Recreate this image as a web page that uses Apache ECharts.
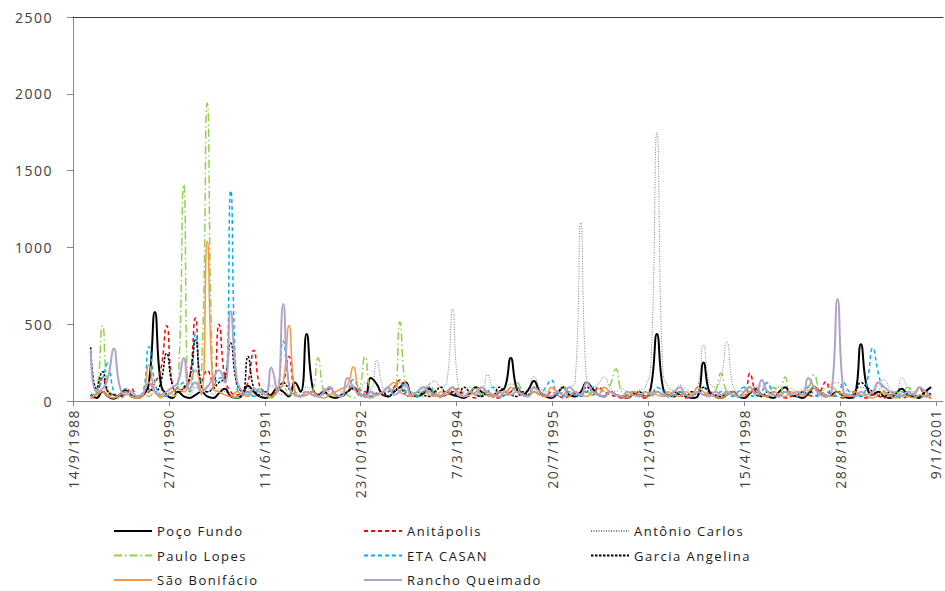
<!DOCTYPE html>
<html>
<head>
<meta charset="utf-8">
<script src="https://cdn.jsdelivr.net/npm/echarts@6/dist/echarts.min.js"></script>
<style>
  html, body { margin: 0; padding: 0; background: #fff; }
  #chart { width: 945px; height: 591px; }
  #chart text { letter-spacing: 1.5px; }
</style>
</head>
<body>
<div id="chart"></div>
<script>
// monthly samples, Dec 1988 .. Dec 2000
const months = [
  '1988-12',
  '1989-01','1989-02','1989-03','1989-04','1989-05','1989-06','1989-07','1989-08','1989-09','1989-10','1989-11','1989-12',
  '1990-01','1990-02','1990-03','1990-04','1990-05','1990-06','1990-07','1990-08','1990-09','1990-10','1990-11','1990-12',
  '1991-01','1991-02','1991-03','1991-04','1991-05','1991-06','1991-07','1991-08','1991-09','1991-10','1991-11','1991-12',
  '1992-01','1992-02','1992-03','1992-04','1992-05','1992-06','1992-07','1992-08','1992-09','1992-10','1992-11','1992-12',
  '1993-01','1993-02','1993-03','1993-04','1993-05','1993-06','1993-07','1993-08','1993-09','1993-10','1993-11','1993-12',
  '1994-01','1994-02','1994-03','1994-04','1994-05','1994-06','1994-07','1994-08','1994-09','1994-10','1994-11','1994-12',
  '1995-01','1995-02','1995-03','1995-04','1995-05','1995-06','1995-07','1995-08','1995-09','1995-10','1995-11','1995-12',
  '1996-01','1996-02','1996-03','1996-04','1996-05','1996-06','1996-07','1996-08','1996-09','1996-10','1996-11','1996-12',
  '1997-01','1997-02','1997-03','1997-04','1997-05','1997-06','1997-07','1997-08','1997-09','1997-10','1997-11','1997-12',
  '1998-01','1998-02','1998-03','1998-04','1998-05','1998-06','1998-07','1998-08','1998-09','1998-10','1998-11','1998-12',
  '1999-01','1999-02','1999-03','1999-04','1999-05','1999-06','1999-07','1999-08','1999-09','1999-10','1999-11','1999-12',
  '2000-01','2000-02','2000-03','2000-04','2000-05','2000-06','2000-07','2000-08','2000-09','2000-10','2000-11','2000-12'
];

const pocoFundo = [40,
  20,60,30,15,40,70,30,20,40,120,580,120,
  40,20,60,30,20,40,60,30,20,50,80,30,
  20,40,100,60,30,20,40,80,60,30,120,60,
  436,90,40,60,30,20,40,60,90,50,30,150,
  110,40,30,60,90,120,40,30,50,80,40,30,
  60,40,30,20,50,90,60,40,30,60,90,280,
  80,40,70,130,60,30,20,50,90,40,30,60,
  120,80,40,30,60,40,30,20,50,40,30,90,
  436,90,40,30,60,40,20,30,250,60,30,20,
  40,60,30,20,50,80,40,30,20,60,90,40,
  30,20,50,90,60,30,40,60,30,20,40,370,
  90,40,60,30,20,50,80,40,30,20,60,90];

const anitapolis = [20,
  40,150,60,30,20,50,80,30,40,60,120,200,
  490,100,60,80,150,540,120,200,100,500,150,60,
  40,60,120,330,100,50,40,80,120,290,60,30,
  40,60,30,50,80,40,30,60,90,40,60,30,
  50,40,60,90,137,60,40,30,60,90,40,30,
  40,60,80,40,30,20,40,60,30,20,40,60,
  90,40,30,60,40,30,60,40,20,30,50,40,
  60,40,90,60,40,30,20,40,60,30,20,40,
  60,40,30,60,40,20,30,60,40,60,30,20,
  40,60,30,20,180,60,40,30,60,40,20,30,
  40,60,40,30,60,126,40,30,20,40,60,30,
  20,40,30,20,40,30,20,30,40,85,30,20];

const antonioCarlos = [60,
  40,80,60,40,30,60,40,30,50,60,90,70,
  60,40,80,60,40,90,60,100,40,80,60,40,
  30,60,80,40,30,60,100,60,40,80,60,40,
  90,60,40,80,60,40,30,60,90,60,120,80,
  265,90,60,80,120,90,60,40,80,110,130,90,
  120,600,110,60,90,70,50,170,80,60,90,110,
  90,60,80,158,90,60,80,50,60,90,120,1160,
  120,90,110,158,90,60,80,60,50,70,90,250,
  1750,200,90,70,104,80,60,90,365,120,90,150,
  385,100,60,90,60,80,100,60,80,90,60,80,
  60,80,100,90,60,80,110,120,80,60,70,90,
  80,60,100,137,80,60,150,90,60,80,60,40];

const pauloLopes = [30,
  60,490,80,40,20,60,30,20,40,30,60,20,
  40,30,80,1410,60,100,150,1940,120,60,40,30,
  20,40,60,30,80,40,20,60,100,40,60,30,
  40,60,280,60,40,30,60,40,20,60,289,60,
  40,60,80,60,516,90,60,40,30,110,60,40,
  60,80,40,30,60,90,40,60,30,40,60,90,
  120,60,40,80,60,40,30,60,90,40,60,30,
  60,40,80,60,100,208,60,40,30,60,40,30,
  60,80,40,30,60,40,30,60,40,30,60,180,
  60,40,30,80,60,40,30,60,90,40,156,40,
  60,40,80,170,60,40,90,60,30,40,60,30,
  40,60,80,40,30,60,40,90,60,30,40,20];

const etaCasan = [30,
  60,150,247,60,30,80,40,30,60,354,120,40,
  30,60,90,120,60,436,100,60,90,150,150,1370,
  100,40,60,30,80,60,40,60,390,120,40,30,
  60,40,30,60,90,40,30,60,140,80,40,30,
  40,60,30,80,120,60,40,30,60,90,40,30,
  60,90,40,30,60,40,30,60,90,40,30,60,
  90,40,30,60,40,90,137,40,30,60,40,30,
  60,90,40,30,60,40,30,60,40,30,60,40,
  90,60,30,40,60,30,40,60,90,40,30,60,
  40,30,60,90,40,30,60,120,40,30,60,40,
  30,60,90,40,30,60,40,30,120,60,40,30,
  120,345,180,60,40,30,60,40,30,20,40,30];

const garciaAngelina = [350,
  80,191,60,40,30,60,40,30,50,80,60,120,
  310,100,60,90,150,397,100,60,80,120,150,377,
  120,60,289,80,40,60,30,60,120,80,40,30,
  60,40,30,60,90,40,30,60,80,40,30,60,
  40,60,30,60,90,40,30,60,40,30,60,90,
  40,60,30,90,60,40,30,60,40,90,60,40,
  30,60,40,90,60,40,30,60,40,30,60,40,
  90,60,40,30,60,40,30,20,40,60,30,40,
  60,40,30,60,40,30,60,40,90,60,40,30,
  60,40,30,60,90,40,30,60,40,30,60,40,
  30,60,40,90,60,40,30,60,40,30,60,120,
  90,60,40,30,60,40,30,60,40,30,60,40];

const saoBonifacio = [20,
  40,60,30,20,40,60,30,20,40,234,60,30,
  40,60,80,60,120,200,40,1040,80,60,40,30,
  60,40,30,80,60,40,30,60,120,490,60,30,
  40,60,30,20,40,60,80,100,223,60,30,20,
  40,60,90,120,60,40,30,60,90,40,30,60,
  40,90,60,30,40,60,90,40,30,60,40,90,
  60,40,30,60,40,30,90,60,40,30,60,40,
  30,60,40,90,60,40,30,20,60,40,30,60,
  40,30,60,40,30,60,40,90,60,40,30,20,
  40,60,30,40,60,90,40,30,60,40,30,60,
  40,30,60,90,60,40,30,60,40,30,60,40,
  30,20,40,60,30,20,40,30,20,40,30,20];

const ranchoQueimado = [330,
  60,80,150,340,100,40,60,30,50,120,60,40,
  60,90,120,280,80,120,60,90,150,200,120,585,
  150,60,40,80,60,40,217,60,631,100,40,30,
  60,40,30,60,90,40,30,150,90,40,30,60,
  40,60,90,40,60,110,40,60,90,60,40,30,
  60,90,40,30,60,40,90,60,40,30,60,40,
  60,40,30,90,60,40,30,60,40,90,60,40,
  120,60,40,30,60,40,30,60,40,30,60,40,
  60,40,30,60,90,40,30,60,40,30,60,40,
  60,40,30,60,90,40,137,60,40,30,60,40,
  60,40,150,90,40,30,60,664,60,40,30,60,
  40,60,120,90,60,40,30,60,40,90,60,30];

// x axis: days counted from 14/9/1988, a tick every 500 days
const xTicks = [0, 500, 1000, 1500, 2000, 2500, 3000, 3500, 4000, 4500];
const yTicks = [0, 500, 1000, 1500, 2000, 2500];

const ORIGIN = Date.UTC(1988, 8, 14);
const DAY = 86400000;
const dayOf = (ym) => {
  const [y, m] = ym.split('-').map(Number);
  return (Date.UTC(y, m - 1, 15) - ORIGIN) / DAY;
};
const fmtDate = (v) => {
  const d = new Date(ORIGIN + v * DAY);
  return d.getUTCDate() + '/' + (d.getUTCMonth() + 1) + '/' + d.getUTCFullYear();
};

const FONT = '"Open Sans", "DejaVu Sans", sans-serif';

const seriesDefs = [
  { name: 'Poço Fundo',      values: pocoFundo,      color: '#000000', width: 2,   type: 'solid' },
  { name: 'Anitápolis',      values: anitapolis,     color: '#ff0000', width: 1.5, type: [4, 3] },
  { name: 'Antônio Carlos',  values: antonioCarlos,  color: '#7f7f7f', width: 1,   type: [1, 1.5] },
  { name: 'Paulo Lopes',     values: pauloLopes,     color: '#92d050', width: 1.5, type: [8, 3, 1.5, 3] },
  { name: 'ETA CASAN',       values: etaCasan,       color: '#00b0f0', width: 1.5, type: [4, 3] },
  { name: 'Garcia Angelina', values: garciaAngelina, color: '#000000', width: 1.5, type: [2.5, 1.5] },
  { name: 'São Bonifácio',   values: saoBonifacio,   color: '#f79646', width: 1.5, type: 'solid' },
  { name: 'Rancho Queimado', values: ranchoQueimado, color: '#b3a2c7', width: 2,   type: 'solid' }
];

const legendBase = {
  orient: 'vertical',
  top: 523,
  padding: 0,
  itemWidth: 38,
  itemHeight: 10,
  itemGap: 8.5,
  itemStyle: { opacity: 0 },
  textStyle: { fontFamily: FONT, fontSize: 13, lineHeight: 16, color: '#1a1a1a' }
};

const chart = echarts.init(document.getElementById('chart'), null, { renderer: 'svg' });
chart.setOption({
  animation: false,
  grid: { left: 73, right: 2, top: 17, bottom: 190 },
  xAxis: [{
    type: 'value',
    min: 0,
    max: 4537,
    axisLine: { lineStyle: { color: '#868686', width: 1 } },
    axisTick: { show: true, length: 5, customValues: xTicks, lineStyle: { color: '#868686' } },
    axisLabel: {
      customValues: xTicks,
      rotate: 90,
      margin: 8,
      formatter: fmtDate,
      fontFamily: FONT,
      fontSize: 14,
      color: '#404040'
    },
    splitLine: { show: false }
  }, {
    type: 'value',
    position: 'top',
    min: 0,
    max: 4537,
    axisLine: { show: true, lineStyle: { color: '#404040', width: 1 } },
    axisTick: { show: false },
    axisLabel: { show: false },
    splitLine: { show: false }
  }],
  yAxis: {
    type: 'value',
    min: 0,
    max: 2500,
    interval: 500,
    axisLine: { show: true, lineStyle: { color: '#868686', width: 1 } },
    axisTick: { show: true, length: 6, customValues: yTicks, lineStyle: { color: '#868686' } },
    axisLabel: {
      margin: 20,
      formatter: (v) => String(v),
      fontFamily: FONT,
      fontSize: 14,
      color: '#404040'
    },
    splitLine: { show: false }
  },
  legend: [
    Object.assign({ left: 113, data: ['Poço Fundo', 'Paulo Lopes', 'São Bonifácio'] }, legendBase),
    Object.assign({ left: 363, data: ['Anitápolis', 'ETA CASAN', 'Rancho Queimado'] }, legendBase),
    Object.assign({ left: 590, data: ['Antônio Carlos', 'Garcia Angelina'] }, legendBase)
  ],
  series: seriesDefs.map(s => ({
    name: s.name,
    type: 'line',
    xAxisIndex: 0,
    smooth: 0.5,
    symbol: 'none',
    clip: true,
    data: months.map((m, i) => [dayOf(m), s.values[i]]),
    lineStyle: { color: s.color, width: s.width, type: s.type },
    itemStyle: { color: s.color }
  }))
});
</script>
</body>
</html>
